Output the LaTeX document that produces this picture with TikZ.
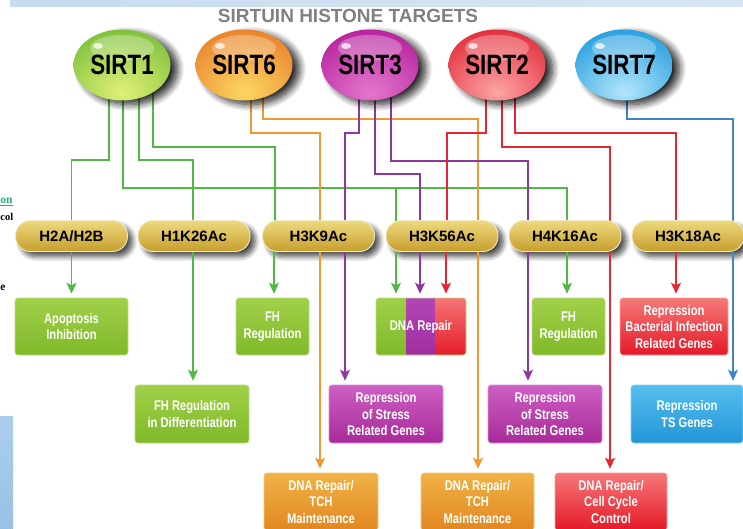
\documentclass[tikz,border=0pt]{standalone}
\usepackage{fontspec}
\setmainfont{Liberation Sans}
\newfontfamily\condfont[FakeStretch=0.8]{Liberation Sans}
\newfontfamily\fragfont{Liberation Serif}
\usetikzlibrary{shapes.geometric,arrows.meta,shadows.blur}

\colorlet{glowin}{white}
\colorlet{glowout}{black}
\pgfdeclareradialshading[glowin,glowout]{glow}{\pgfpoint{0bp}{-20bp}}{%
 color(0bp)=(glowin); color(18bp)=(glowin!55!glowout); color(38bp)=(glowout); color(60bp)=(glowout!88!black); color(75bp)=(glowout!75!black)}

\pgfdeclarelayer{bg}
\pgfsetlayers{bg,main}

\definecolor{cG}{RGB}{80,185,70}
\definecolor{cO}{RGB}{242,152,48}
\definecolor{cP}{RGB}{142,55,160}
\definecolor{cR}{RGB}{232,38,50}
\definecolor{cB}{RGB}{62,132,200}
\definecolor{pillT}{RGB}{238,218,128}
\definecolor{pillM}{RGB}{218,184,74}
\definecolor{pillB}{RGB}{198,158,44}
\definecolor{pillE}{RGB}{242,234,196}
\definecolor{gT}{RGB}{160,208,72}
\definecolor{gB}{RGB}{128,185,42}
\definecolor{pT}{RGB}{205,95,195}
\definecolor{pB}{RGB}{168,42,152}
\definecolor{dpT}{RGB}{180,70,180}
\definecolor{dpB}{RGB}{160,45,160}
\definecolor{rT}{RGB}{245,120,120}
\definecolor{rB}{RGB}{228,25,40}
\definecolor{oT}{RGB}{240,178,70}
\definecolor{oB}{RGB}{226,135,32}
\definecolor{bT}{RGB}{85,190,238}
\definecolor{bB}{RGB}{35,150,215}
\definecolor{titlegray}{RGB}{128,128,128}
\definecolor{bandL}{RGB}{198,220,238}
\definecolor{bandR}{RGB}{214,230,244}
\definecolor{panelT}{RGB}{172,206,236}
\definecolor{panelB}{RGB}{152,193,230}
\definecolor{fragG}{RGB}{40,170,120}

\tikzset{
 sirt/.style={ellipse, minimum width=97pt, minimum height=71pt, inner sep=0pt,
   shading=glow, text=black, font=\condfont\bfseries\fontsize{28}{30}\selectfont,
   blur shadow={shadow xshift=7pt, shadow yshift=-4pt, shadow blur radius=7pt, shadow blur steps=10, shadow opacity=85},
   path picture={
     \fill[white,opacity=0.28] ([yshift=17pt]path picture bounding box.center) ellipse [x radius=32pt,y radius=13pt];
     \fill[white,opacity=0.75] ([xshift=-24pt,yshift=19pt]path picture bounding box.center) ellipse [x radius=5pt,y radius=3pt];
   }},
 pill/.style={rectangle, rounded corners=15pt, minimum width=112pt, minimum height=31pt, inner sep=0pt,
   top color=pillT, middle color=pillM, bottom color=pillB, draw=pillE, line width=0.9pt,
   text=black, font=\bfseries\fontsize{15}{18}\selectfont,
   blur shadow={shadow xshift=5pt, shadow yshift=-5pt, shadow blur radius=5pt, shadow blur steps=8, shadow opacity=70}},
 obox/.style 2 args={rectangle, rounded corners=3pt, minimum height=57pt, inner sep=2pt,
   top color=#1, bottom color=#2, draw=#1!70!white, line width=0.6pt,
   text=white, align=center, font=\condfont\bfseries\fontsize{14}{16.5}\selectfont},
 gl/.style={draw=cG, line width=1.7pt},
 ol/.style={draw=cO, line width=1.7pt},
 pl/.style={draw=cP, line width=1.7pt},
 rl/.style={draw=cR, line width=1.7pt},
 bl/.style={draw=cB, line width=1.7pt},
 tipped/.style={-{Stealth[length=11pt,width=10pt,inset=2.5pt]}, shorten >=4pt},
}

\begin{document}
\begin{tikzpicture}[x=1pt,y=-1pt]
\useasboundingbox (0,0) rectangle (743,529);

% decorative band and panel
\shade[left color=bandL, right color=bandR] (10,0) rectangle (743,7);
\shade[top color=panelT, bottom color=panelB] (0,416) rectangle (13,529);

% fragments of text at the left edge
\node[anchor=base west, inner sep=0pt, text=fragG, font=\fragfont\bfseries\fontsize{11.5}{14}\selectfont] (fr1) at (0.3,204) {\underline{on}};
\node[anchor=base west, inner sep=0pt, text=black, font=\fragfont\bfseries\fontsize{10.5}{14}\selectfont] (fr2) at (0.3,221) {col};
\node[anchor=base west, inner sep=0pt, text=black, font=\fragfont\bfseries\fontsize{11.5}{14}\selectfont] (fr3) at (0.3,290) {e};

% title
\node[text=titlegray, font=\bfseries\fontsize{19}{21}\selectfont] (title) at (348,16) {SIRTUIN HISTONE TARGETS};

% sirtuins
\colorlet{glowin}{rgb,255:red,225;green,240;blue,120}\colorlet{glowout}{rgb,255:red,120;green,190;blue,55}
\node[sirt] (s1) at (122,65) {SIRT1};
\colorlet{glowin}{rgb,255:red,252;green,215;blue,100}\colorlet{glowout}{rgb,255:red,232;green,125;blue,40}
\node[sirt] (s6) at (244,65) {SIRT6};
\colorlet{glowin}{rgb,255:red,228;green,120;blue,205}\colorlet{glowout}{rgb,255:red,180;green,30;blue,155}
\node[sirt] (s3) at (370,65) {SIRT3};
\colorlet{glowin}{rgb,255:red,252;green,165;blue,165}\colorlet{glowout}{rgb,255:red,225;green,40;blue,55}
\node[sirt] (s2) at (497,65) {SIRT2};
\colorlet{glowin}{rgb,255:red,180;green,230;blue,252}\colorlet{glowout}{rgb,255:red,30;green,155;blue,220}
\node[sirt] (s7) at (624,65) {SIRT7};

% histone marks
\node[pill] (hA) at (71.5,236) {H2A/H2B};
\node[pill] (hB) at (194,236) {H1K26Ac};
\node[pill] (hC) at (318.5,236) {H3K9Ac};
\node[pill] (hD) at (442,236) {H3K56Ac};
\node[pill] (hE) at (565,236) {H4K16Ac};
\node[pill] (hF) at (688,236) {H3K18Ac};

% outcome boxes
\node[obox={gT}{gB}, minimum width=113pt] (ap) at (71.5,326.5) {Apoptosis\\Inhibition};
\node[obox={gT}{gB}, minimum width=73pt] (fh1) at (272.5,326.5) {FH\\Regulation};
\node[obox={gT}{gB}, minimum width=90pt,
  path picture={
   \shade[top color=gT, bottom color=gB] ([xshift=-2pt,yshift=2pt]path picture bounding box.north west) rectangle ([xshift=30pt,yshift=-2pt]path picture bounding box.south west);
   \shade[top color=dpT, bottom color=dpB] ([xshift=30pt,yshift=2pt]path picture bounding box.north west) rectangle ([xshift=59pt,yshift=-2pt]path picture bounding box.south west);
   \shade[top color=rT, bottom color=rB] ([xshift=59pt,yshift=2pt]path picture bounding box.north west) rectangle ([xshift=2pt,yshift=-2pt]path picture bounding box.south east);
  }] (dr) at (421,326.5) {DNA Repair};
\node[obox={gT}{gB}, minimum width=73pt] (fh2) at (568.5,326.5) {FH\\Regulation};
\node[obox={rT}{rB}, minimum width=108pt] (rb) at (674,326.5) {Repression\\Bacterial Infection\\Related Genes};
\node[obox={gT}{gB}, minimum width=114pt, minimum height=58pt] (fhd) at (192,414) {FH Regulation\\in Differentiation};
\node[obox={pT}{pB}, minimum width=114pt, minimum height=58pt] (rs1) at (386,414) {Repression\\of Stress\\Related Genes};
\node[obox={pT}{pB}, minimum width=114pt, minimum height=58pt] (rs2) at (545,414) {Repression\\of Stress\\Related Genes};
\node[obox={bT}{bB}, minimum width=112pt, minimum height=58pt] (rts) at (687,414) {Repression\\TS Genes};
\node[obox={oT}{oB}, minimum width=114pt] (dt1) at (321,501.5) {DNA Repair/\\TCH\\Maintenance};
\node[obox={oT}{oB}, minimum width=113pt] (dt2) at (477.5,501.5) {DNA Repair/\\TCH\\Maintenance};
\node[obox={rT}{rB}, minimum width=112pt] (dc) at (611,501.5) {DNA Repair/\\Cell Cycle\\Control};

% connectors from sirtuins to histone marks (behind)
\begin{pgfonlayer}{bg}
\coordinate (gj) at (396,188);
\draw[gl] (109,0 |- s1.center) |- (71.5,160) -- (71.5,0 |- hA.center);
\draw[gl] (123,0 |- s1.center) |- (567,188) -- (567,0 |- hE.center);
\draw[gl] (gj) -- (gj |- hD.center);
\draw[gl] (139,0 |- s1.center) |- (193,160) -- (193,0 |- hB.center);
\draw[gl] (153,0 |- s1.center) |- (275,147) -- (275,0 |- hC.center);
\draw[ol] (251,0 |- s6.center) |- (320,133) -- (320,0 |- hC.center);
\draw[ol] (263,0 |- s6.center) |- (478,119) -- (478,0 |- hD.center);
\draw[pl] (359,0 |- s3.center) |- (345,133) -- (345,0 |- hC.center);
\draw[pl] (375,0 |- s3.center) |- (420,174) -- (420,0 |- hD.center);
\draw[pl] (391,0 |- s3.center) |- (528,161) -- (528,0 |- hE.center);
\draw[rl] (486,0 |- s2.center) |- (447,133) -- (447,0 |- hD.center);
\draw[rl] (502,0 |- s2.center) |- (610,147) -- (610,0 |- hE.center);
\draw[rl] (515,0 |- s2.center) |- (676,133) -- (676,0 |- hF.center);
\draw[bl] (627,0 |- s7.center) |- (733,119) -- (733,0 |- hF.center);
\end{pgfonlayer}

% arrows from histone marks to outcomes
\draw[gl,tipped] (71.5,0 |- hA.south) -- (71.5,0 |- ap.north);
\draw[gl,tipped] (193,0 |- hB.south) -- (193,0 |- fhd.north);
\draw[gl,tipped] (274,0 |- hC.south) -- (274,0 |- fh1.north);
\draw[gl,tipped] (396,0 |- hD.south) -- (396,0 |- dr.north);
\draw[gl,tipped] (567,0 |- hE.south) -- (567,0 |- fh2.north);
\draw[ol,tipped] (320,0 |- hC.south) -- (320,0 |- dt1.north);
\draw[ol,tipped] (478,0 |- hD.south) -- (478,0 |- dt2.north);
\draw[pl,tipped] (345,0 |- hC.south) -- (345,0 |- rs1.north);
\draw[pl,tipped] (420,0 |- hD.south) -- (420,0 |- dr.north);
\draw[pl,tipped] (528,0 |- hE.south) -- (528,0 |- rs2.north);
\draw[rl,tipped] (446,0 |- hD.south) -- (446,0 |- dr.north);
\draw[rl,tipped] (610,0 |- hE.south) -- (610,0 |- dc.north);
\draw[rl,tipped] (676,0 |- hF.south) -- (676,0 |- rb.north);
\draw[bl,tipped] (733,0 |- hF.south) -- (733,0 |- rts.north);
\end{tikzpicture}
\end{document}
